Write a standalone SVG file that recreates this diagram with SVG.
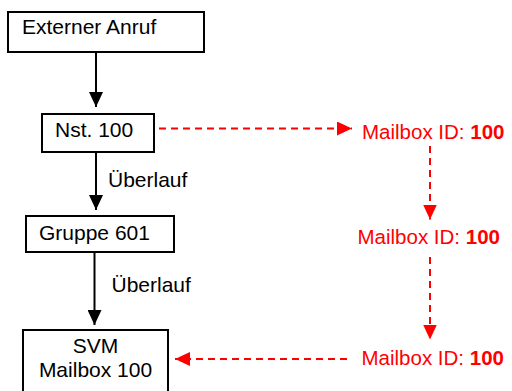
<svg xmlns="http://www.w3.org/2000/svg" width="512" height="391" viewBox="0 0 512 391">
<defs>
<style>
.box{fill:#fff;stroke:#000;stroke-width:2}
.t{font-family:"Liberation Sans",Arial,sans-serif;font-size:21px;fill:#000}
.r{font-family:"Liberation Sans",Arial,sans-serif;font-size:20.5px;fill:#f00}
.b{font-weight:bold}
.bl{stroke:#000;stroke-width:2;fill:none}
.rd{stroke:#f00;stroke-width:2;fill:none;stroke-dasharray:7 5}
</style>
<marker id="ab" markerWidth="15" markerHeight="14" refX="15" refY="7" orient="auto" markerUnits="userSpaceOnUse"><path d="M0,0 L15,7 L0,14 Z" fill="#000"/></marker>
<marker id="ar" markerWidth="15" markerHeight="14" refX="15" refY="7" orient="auto" markerUnits="userSpaceOnUse"><path d="M0,0 L15,7 L0,14 Z" fill="#f00"/></marker>
</defs>
<rect width="512" height="391" fill="#fff"/>
<g id="connectors">
<line class="bl" x1="96" y1="52" x2="96" y2="107" marker-end="url(#ab)"/>
<line class="bl" x1="96" y1="152" x2="96" y2="210" marker-end="url(#ab)"/>
<line class="bl" x1="94.5" y1="252" x2="94.5" y2="325" marker-end="url(#ab)"/>
<line class="rd" x1="159" y1="128.5" x2="352" y2="128.5" marker-end="url(#ar)"/>
<line class="rd" x1="430" y1="146" x2="430" y2="219.5" marker-end="url(#ar)"/>
<line class="rd" x1="430" y1="257" x2="430" y2="339.5" marker-end="url(#ar)"/>
<line class="rd" x1="347" y1="359" x2="175" y2="359" marker-end="url(#ar)"/>
<text class="t" x="108" y="187">Überlauf</text>
<text class="t" x="111.5" y="292">Überlauf</text>
</g>
<g id="externer-anruf">
<rect class="box" x="8" y="12" width="196" height="40"/>
<text class="t" x="22" y="34">Externer Anruf</text>
</g>
<g id="nst-100">
<rect class="box" x="42" y="114" width="112" height="38"/>
<text class="t" x="55" y="137">Nst. 100</text>
</g>
<g id="gruppe-601">
<rect class="box" x="26" y="216" width="148" height="36"/>
<text class="t" x="39" y="239.5">Gruppe 601</text>
</g>
<g id="svm-mailbox">
<rect class="box" x="23" y="330" width="145" height="80"/>
<text class="t" x="95.5" y="352.5" text-anchor="middle">SVM</text>
<text class="t" x="95.5" y="377" text-anchor="middle">Mailbox 100</text>
</g>
<g id="mailbox-1">
<text class="r" x="362" y="138.5">Mailbox ID: <tspan class="b">100</tspan></text>
</g>
<g id="mailbox-2">
<text class="r" x="357.5" y="244">Mailbox ID: <tspan class="b">100</tspan></text>
</g>
<g id="mailbox-3">
<text class="r" x="361.5" y="365">Mailbox ID: <tspan class="b">100</tspan></text>
</g>
</svg>
